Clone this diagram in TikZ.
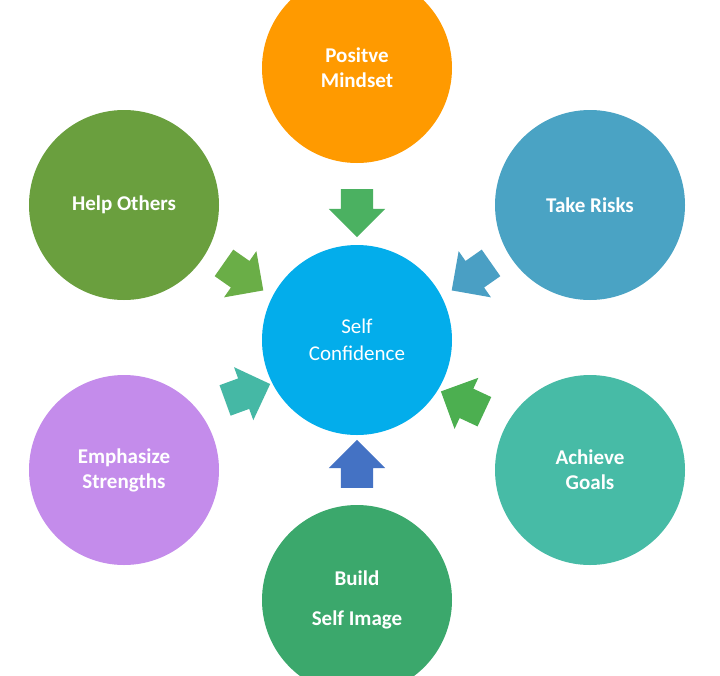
\documentclass[tikz,border=0pt]{standalone}
\usepackage{fontspec}
\setmainfont{Carlito}
\usetikzlibrary{shapes.arrows}
\definecolor{corange}{HTML}{FF9A00}
\definecolor{cgreen}{HTML}{6A9F3E}
\definecolor{cblue}{HTML}{4AA3C4}
\definecolor{ccenter}{HTML}{03ADEB}
\definecolor{cpurple}{HTML}{C48CEB}
\definecolor{cteal}{HTML}{47BBA6}
\definecolor{cbuild}{HTML}{3BA86C}
\definecolor{agreen}{HTML}{6AAE47}
\definecolor{ablue}{HTML}{4A9FC4}
\definecolor{ateal}{HTML}{45B8A5}
\definecolor{agreen2}{HTML}{4CAF50}
\definecolor{adblue}{HTML}{4472C4}
\begin{document}
\begin{tikzpicture}[x=1pt,y=-1pt,
  circ/.style={circle,minimum size=190pt,inner sep=0pt,text=white,font=\fontsize{21}{25}\selectfont\bfseries,align=center},
  arr/.style={single arrow,minimum width=56pt,minimum height=48pt,single arrow head extend=12pt,inner xsep=0pt,inner ysep=16pt}]
\path[use as bounding box,fill=white] (0,0) rectangle (720,675);
\begin{scope}
\clip (0,0) rectangle (720,675);
\node[circ,fill=corange] (top) at (357,68) {Positve\\Mindset};
\node[circ,fill=cgreen] (help) at (124,205) {Help Others};
\node[circ,fill=cblue] (risk) at (590,205) {Take Risks};
\node[circ,fill=ccenter,font=\fontsize{21}{27}\selectfont] (self) at (357,340) {Self\\Confidence};
\node[circ,fill=cpurple] (emph) at (124,470) {Emphasize\\Strengths};
\node[circ,fill=cteal] (goal) at (590,470) {Achieve\\Goals};
\node[circ,fill=cbuild,font=\fontsize{21}{40}\selectfont\bfseries] (build) at (357,600) {Build\\Self Image};
\node[arr,fill=agreen2!80!cteal,rotate=-90] (a1) at (357,205) {};
\node[arr,fill=agreen,rotate=-35] (a2) at (237,272) {};
\node[arr,fill=ablue,rotate=-145] (a3) at (478,272) {};
\node[arr,fill=ateal,rotate=20] (a4) at (240,395) {};
\node[arr,fill=agreen2,rotate=155] (a5) at (470,405) {};
\node[arr,fill=adblue,rotate=90] (a6) at (357,472) {};
\end{scope}
\end{tikzpicture}
\end{document}
